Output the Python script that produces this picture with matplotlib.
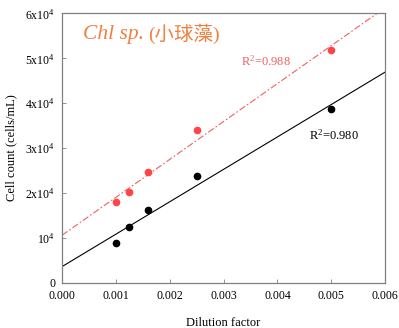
import numpy as np
import matplotlib
matplotlib.use("Agg")
import matplotlib.pyplot as plt

plt.rcParams['font.family'] = ['Liberation Serif', 'Noto Sans CJK SC']
plt.rcParams['mathtext.fontset'] = 'custom'
plt.rcParams['mathtext.rm'] = 'Liberation Serif'
plt.rcParams['mathtext.it'] = 'Liberation Serif:italic'

dilution = [0.001, 0.00125, 0.0016, 0.0025, 0.005]
black_counts = [8760, 12500, 16200, 23700, 38800]
red_counts = [17900, 20200, 24700, 34100, 51900]
xticks = [0.000, 0.001, 0.002, 0.003, 0.004, 0.005, 0.006]
xtick_labels = ["0.000", "0.001", "0.002", "0.003", "0.004", "0.005", "0.006"]
yticks = [0, 10000, 20000, 30000, 40000, 50000, 60000]
ytick_labels = ["0", "10$^4$", "2x10$^4$", "3x10$^4$", "4x10$^4$", "5x10$^4$", "6x10$^4$"]

fig = plt.figure(figsize=(3.99, 3.28), dpi=100)
ax = fig.add_axes([0.1554, 0.138, 0.81, 0.821])

xx = np.array([0.0, 0.006])
pb = np.polyfit(dilution, black_counts, 1)
pr = np.polyfit(dilution, red_counts, 1)
ax.plot(xx, np.polyval(pb, xx), color='black', lw=0.8)
ax.plot(xx, np.polyval(pr, xx), color='#F06060', lw=0.8, dashes=[6, 2, 1.5, 2])
ax.plot(dilution, black_counts, 'o', color='black', ms=4.5)
ax.plot(dilution, red_counts, 'o', color='#FF4545', ms=4.5)

ax.set_xlim(0, 0.006)
ax.set_ylim(0, 60000)
ax.set_xticks(xticks)
ax.set_xticklabels(xtick_labels, fontsize=8.5)
ax.set_yticks(yticks)
ax.set_yticklabels(ytick_labels, fontsize=8.5)
ax.tick_params(direction='in', length=3, width=0.6, color='#808080', pad=5)
for s in ax.spines.values():
    s.set_color('#808080')
    s.set_linewidth(0.9)

ax.set_xlabel("Dilution factor", fontsize=9, labelpad=11)
ax.set_ylabel("Cell count (cells/mL)", fontsize=9, labelpad=6)

ax.text(0.00039, 55400, "Chl sp.", fontsize=15.5, style='italic',
        color='#F08040', family='Liberation Serif', va='center')
ax.text(0.00160, 55400, "(小球藻)", fontsize=14, color='#F08040',
        family=['Liberation Serif', 'Noto Sans CJK SC'], va='center')
ax.text(0.00333, 49300, "R$^2$=0.988", fontsize=9, color='#F06060', va='center')
ax.text(0.00458, 32900, "R$^2$=0.980", fontsize=9, color='black', va='center')

fig.savefig("out.png", dpi=100)
